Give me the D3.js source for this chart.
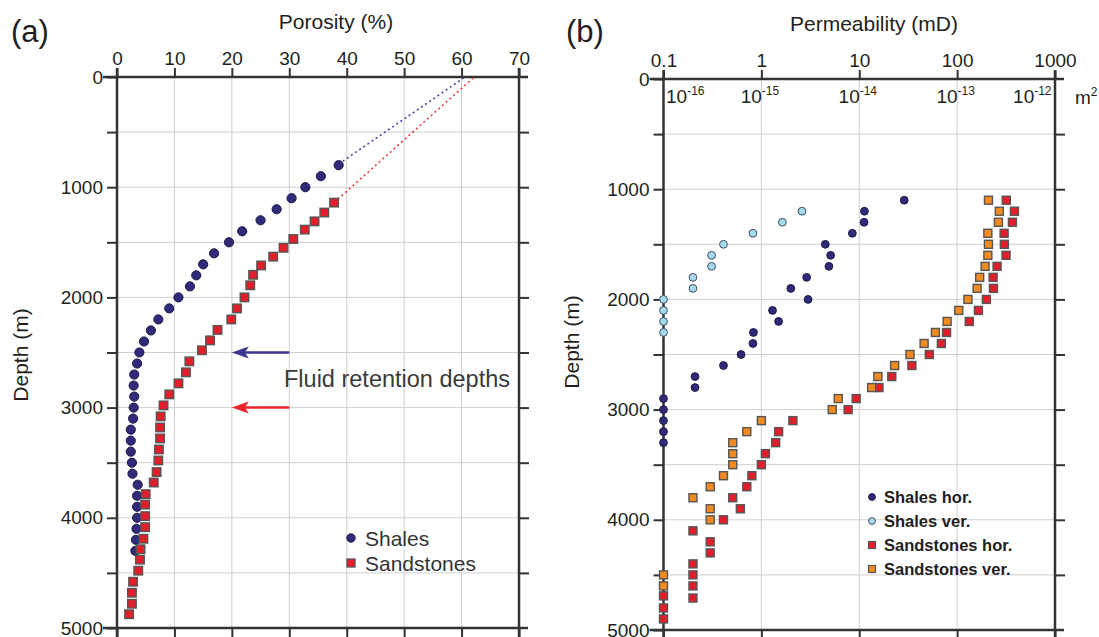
<!DOCTYPE html>
<html>
<head>
<meta charset="utf-8">
<script src="https://cdn.jsdelivr.net/npm/d3@7"></script>
<style>
body { margin: 0; background: #fff; }
svg text { font-family: "Liberation Sans", Arial, sans-serif; fill: #231f20; }
</style>
</head>
<body>
<svg id="chart" width="1099" height="637"></svg>
<script>
// ---- DATA: panel (a) porosity vs depth ----
var shaleDepthA = [800, 900, 1000, 1100, 1200, 1300, 1400, 1500, 1600, 1700, 1800, 1900,
  2000, 2100, 2200, 2300, 2400, 2500, 2600, 2700, 2800, 2900, 3000, 3100, 3200, 3300,
  3400, 3500, 3600, 3700, 3800, 3900, 4000, 4100, 4200, 4300];
var shalePorosity = [38.6, 35.5, 32.8, 30.4, 27.8, 25.0, 21.8, 19.5, 16.9, 15.0, 13.8, 12.7,
  10.7, 9.1, 7.2, 5.9, 4.7, 3.9, 3.5, 3.0, 2.9, 3.0, 2.9, 2.8, 2.4, 2.4,
  2.4, 2.6, 2.7, 3.6, 3.5, 3.5, 3.5, 3.4, 3.3, 3.2];

var sandDepthA = [1140, 1230, 1310, 1385, 1470, 1550, 1630, 1710, 1795, 1890, 2000, 2100,
  2200, 2295, 2390, 2480, 2580, 2680, 2780, 2880, 2980, 3080, 3180, 3280, 3380, 3480,
  3585, 3680, 3785, 3880, 3985, 4085, 4190, 4285, 4380, 4480, 4580, 4680, 4780, 4875];
var sandPorosity = [37.8, 36.1, 34.4, 32.7, 30.7, 29.0, 27.2, 25.1, 23.7, 23.2, 22.2, 20.9,
  19.9, 17.5, 16.2, 14.8, 12.6, 12.0, 10.7, 9.1, 8.1, 7.6, 7.5, 7.5, 7.3, 7.2,
  6.9, 6.4, 5.0, 4.9, 4.9, 4.9, 4.6, 4.1, 4.0, 3.7, 2.8, 2.6, 2.6, 2.1];

// extrapolated surface porosity (dotted lines)
var shaleTrendPorosity = [38.6, 60.6], shaleTrendDepth = [790, 0];
var sandTrendPorosity = [37.8, 62.2], sandTrendDepth = [1140, 0];

// fluid retention depth arrows
var retentionDepths = [2500, 3000];
var arrowFrom = 30, arrowTo = 20;

var porosityTicks = [0, 10, 20, 30, 40, 50, 60, 70];
var depthTicks = [0, 500, 1000, 1500, 2000, 2500, 3000, 3500, 4000, 4500, 5000];
var legendA = ["Shales", "Sandstones"];

// ---- DATA: panel (b) permeability vs depth ----
var shaleHorDepth = [1100, 1200, 1300, 1400, 1500, 1600, 1700, 1800, 1900, 2000, 2100, 2200,
  2300, 2400, 2500, 2600, 2700, 2800, 2900, 3000, 3100, 3200, 3300];
var shaleHorPerm = [28.8, 11.3, 11.2, 8.5, 4.5, 5.1, 4.9, 2.9, 2.0, 3.0, 1.3, 1.5,
  0.83, 0.82, 0.62, 0.41, 0.21, 0.21, 0.1, 0.1, 0.1, 0.1, 0.1];

var shaleVerDepth = [1200, 1300, 1400, 1500, 1600, 1700, 1800, 1900, 2000, 2100, 2200, 2300];
var shaleVerPerm = [2.6, 1.64, 0.82, 0.41, 0.31, 0.31, 0.20, 0.20, 0.1, 0.1, 0.1, 0.1];

var sandHorDepth = [1100, 1200, 1300, 1400, 1500, 1600, 1700, 1800, 1900, 2000, 2100, 2200,
  2300, 2400, 2500, 2600, 2700, 2800, 2900, 3000, 3100, 3200, 3300, 3400, 3500, 3600,
  3700, 3800, 3900, 4000, 4100, 4200, 4300, 4400, 4500, 4600, 4710, 4690, 4800, 4900];
var sandHorPerm = [318, 385, 367, 302, 304, 316, 256, 233, 235, 199, 165, 133,
  78, 69, 52, 34.5, 21.5, 15.9, 9.3, 7.7, 2.1, 1.5, 1.4, 1.1, 1.0, 0.80,
  0.71, 0.51, 0.61, 0.41, 0.20, 0.30, 0.30, 0.20, 0.20, 0.20, 0.20, 0.1, 0.1, 0.1];

var sandVerDepth = [1100, 1200, 1300, 1400, 1500, 1600, 1700, 1800, 1900, 2000, 2100, 2200,
  2300, 2400, 2500, 2600, 2700, 2800, 2900, 3000, 3100, 3200, 3300, 3400, 3500, 3600,
  3700, 3800, 3900, 4000, 4500, 4600];
var sandVerPerm = [209, 270, 264, 206, 209, 206, 193, 170, 160, 129, 104, 79,
  60, 46, 33, 23, 15.5, 13.4, 6.1, 5.3, 1.0, 0.71, 0.51, 0.51, 0.51, 0.41,
  0.30, 0.2, 0.30, 0.30, 0.1, 0.1];

var permTicks = [0.1, 1, 10, 100, 1000];
var permTickLabels = ["0.1", "1", "10", "100", "1000"];
var m2Exponents = [-16, -15, -14, -13, -12];
var legendB = ["Shales hor.", "Shales ver.", "Sandstones hor.", "Sandstones ver."];

// ---- STYLE ----
var colShale = "#2f2a7a", colShaleVer = "#a6d8f0", colSand = "#e31e2a", colSandVer = "#f18a1f";
var axisCol = "#333";

var svg = d3.select('#chart');

function zip(a, b) { return a.map(function(v, i) { return [v, b[i]]; }); }

// generic frame: grid, 4 axes, labels
function drawFrame(x, y, xTicks, xLabels, x0, x1, y0, y1) {
  var g = svg.append('g');
  // grid
  g.selectAll('.vgrid').data(xTicks.slice(1, -1)).enter().append('line')
    .attr('x1', x).attr('x2', x).attr('y1', y0).attr('y2', y1)
    .attr('stroke', '#cfcfcf').attr('stroke-width', 1);
  g.selectAll('.hgrid').data(depthTicks.slice(1, -1)).enter().append('line')
    .attr('x1', x0).attr('x2', x1).attr('y1', y).attr('y2', y)
    .attr('stroke', '#cfcfcf').attr('stroke-width', 1);

  var top = g.append('g').attr('transform', 'translate(0,' + y0 + ')')
    .call(d3.axisTop(x).tickValues(xTicks).tickSize(9).tickSizeOuter(0).tickPadding(3)
      .tickFormat(function(d, i) { return xLabels[i]; }));
  var bottom = g.append('g').attr('transform', 'translate(0,' + y1 + ')')
    .call(d3.axisBottom(x).tickValues(xTicks).tickSize(9).tickSizeOuter(0).tickFormat(''));
  var left = g.append('g').attr('transform', 'translate(' + x0 + ',0)')
    .call(d3.axisLeft(y).tickValues(depthTicks).tickSize(10).tickSizeOuter(0).tickPadding(4)
      .tickFormat(function(d) { return d % 1000 === 0 ? d : ''; }));
  var right = g.append('g').attr('transform', 'translate(' + x1 + ',0)')
    .call(d3.axisRight(y).tickValues(depthTicks.slice(1, -1)).tickSize(10).tickSizeOuter(0).tickFormat(''));

  [top, bottom, left, right].forEach(function(a) {
    a.select('.domain').remove();
    a.selectAll('.tick line').attr('stroke', axisCol).attr('stroke-width', 2);
    a.selectAll('.tick text').style('font-size', '19px').attr('fill', '#231f20');
  });

  // axis lines, extending a little past the corners
  g.append('line').attr('x1', x0 - 14).attr('x2', x1 + 9).attr('y1', y0).attr('y2', y0)
    .attr('stroke', axisCol).attr('stroke-width', 2.5);
  g.append('line').attr('x1', x0 - 14).attr('x2', x1 + 9).attr('y1', y1).attr('y2', y1)
    .attr('stroke', axisCol).attr('stroke-width', 2.5);
  g.append('line').attr('x1', x0).attr('x2', x0).attr('y1', y0 - 9).attr('y2', 640)
    .attr('stroke', axisCol).attr('stroke-width', 2.5);
  g.append('line').attr('x1', x1).attr('x2', x1).attr('y1', y0 - 9).attr('y2', 640)
    .attr('stroke', axisCol).attr('stroke-width', 2.5);
  return g;
}

function circles(g, pts, x, y, r, fill, stroke) {
  g.selectAll(null).data(pts).enter().append('circle')
    .attr('cx', function(d) { return x(d[0]); })
    .attr('cy', function(d) { return y(d[1]); })
    .attr('r', r).attr('fill', fill).attr('stroke', stroke).attr('stroke-width', 1);
}
function squares(g, pts, x, y, s, fill, stroke) {
  g.selectAll(null).data(pts).enter().append('rect')
    .attr('x', function(d) { return x(d[0]) - s / 2; })
    .attr('y', function(d) { return y(d[1]) - s / 2; })
    .attr('width', s).attr('height', s)
    .attr('fill', fill).attr('stroke', stroke).attr('stroke-width', 1.4);
}

// ================= PANEL (a) =================
var xA = d3.scaleLinear().domain([0, 70]).range([117, 519]);
var yA = d3.scaleLinear().domain([0, 5000]).range([77, 628]);

var gA = drawFrame(xA, yA, porosityTicks, porosityTicks.map(String), xA(0), xA(70), yA(0), yA(5000));

svg.append('text').attr('x', 11).attr('y', 42).style('font-size', '31px').text('(a)');
svg.append('text').attr('x', 336).attr('y', 29).attr('text-anchor', 'middle')
  .style('font-size', '21px').text('Porosity (%)');
svg.append('text').attr('transform', 'translate(28,355) rotate(-90)').attr('text-anchor', 'middle')
  .style('font-size', '21px').text('Depth (m)');

// dotted extrapolations
var lineA = d3.line().x(function(d) { return xA(d[0]); }).y(function(d) { return yA(d[1]); });
svg.append('path').datum(zip(shaleTrendPorosity, shaleTrendDepth)).attr('d', lineA)
  .attr('fill', 'none').attr('stroke', '#4a44a0').attr('stroke-width', 1.6).attr('stroke-dasharray', '2,3');
svg.append('path').datum(zip(sandTrendPorosity, sandTrendDepth)).attr('d', lineA)
  .attr('fill', 'none').attr('stroke', '#ee3a40').attr('stroke-width', 1.6).attr('stroke-dasharray', '2,3');

// arrows
var arrowCols = ["#3b3591", "#e8232b"];
retentionDepths.forEach(function(dep, i) {
  var yy = yA(dep), xt = xA(arrowTo), xs = xA(arrowFrom);
  svg.append('line').attr('x1', xs).attr('x2', xt + 12).attr('y1', yy).attr('y2', yy)
    .attr('stroke', arrowCols[i]).attr('stroke-width', 2.5);
  svg.append('path').attr('d', 'M' + xt + ',' + yy + 'L' + (xt + 17) + ',' + (yy - 6) +
      'L' + (xt + 13) + ',' + yy + 'L' + (xt + 17) + ',' + (yy + 6) + 'Z')
    .attr('fill', arrowCols[i]);
});
svg.append('text').attr('x', 284).attr('y', 387).style('font-size', '23.5px')
  .style('fill', '#3a3a3a').text('Fluid retention depths');

var markA = svg.append('g');
circles(markA, zip(shalePorosity, shaleDepthA), xA, yA, 4.6, colShale, '#1e1b44');
squares(markA, zip(sandPorosity, sandDepthA), xA, yA, 8.5, colSand, '#555');

// legend (a)
svg.append('circle').attr('cx', 351).attr('cy', 538).attr('r', 4.2).attr('fill', colShale).attr('stroke', '#1e1b44');
svg.append('rect').attr('x', 347).attr('y', 559).attr('width', 8).attr('height', 8)
  .attr('fill', colSand).attr('stroke', '#555').attr('stroke-width', 1.3);
svg.selectAll('.legA').data(legendA).enter().append('text')
  .attr('x', 365).attr('y', function(d, i) { return 545.5 + i * 25; })
  .style('font-size', '21px').style('fill', '#333').text(function(d) { return d; });

// ================= PANEL (b) =================
var xB = d3.scaleLog().domain([0.1, 1000]).range([663.5, 1055]);
var yB = d3.scaleLinear().domain([0, 5000]).range([79, 630]);

var gB = drawFrame(xB, yB, permTicks, permTickLabels, xB(0.1), xB(1000), yB(0), yB(5000));

svg.append('text').attr('x', 566).attr('y', 42).style('font-size', '31px').text('(b)');
svg.append('text').attr('x', 874).attr('y', 31).attr('text-anchor', 'middle')
  .style('font-size', '21px').text('Permeability (mD)');
svg.append('text').attr('transform', 'translate(579,342) rotate(-90)').attr('text-anchor', 'middle')
  .style('font-size', '21px').text('Depth (m)');

// m^2 secondary labels (1 mD = 9.869e-16 m^2)
m2Exponents.forEach(function(e, i) {
  var px = xB(Math.pow(10, e) / 9.869e-16);
  var last = i === m2Exponents.length - 1;
  var anchor = i === 0 ? 'start' : (last ? 'end' : 'middle');
  var t = svg.append('text').attr('x', px + (i === 0 ? 2 : (last ? -4 : -2)))
    .attr('y', 103).attr('text-anchor', anchor).style('font-size', '19px');
  t.append('tspan').text('10');
  t.append('tspan').attr('dy', -8).style('font-size', '12px').text(String(e));
});
var m2 = svg.append('text').attr('x', 1075).attr('y', 104).style('font-size', '19px');
m2.append('tspan').text('m');
m2.append('tspan').attr('dy', -8).style('font-size', '12px').text('2');

var markB = svg.append('g');
circles(markB, zip(shaleHorPerm, shaleHorDepth), xB, yB, 3.9, colShale, '#1e1b44');
circles(markB, zip(shaleVerPerm, shaleVerDepth), xB, yB, 3.9, colShaleVer, '#3c5060');
squares(markB, zip(sandHorPerm, sandHorDepth), xB, yB, 8, colSand, '#555');
squares(markB, zip(sandVerPerm, sandVerDepth), xB, yB, 8, colSandVer, '#555');

// legend (b)
var legCols = [colShale, colShaleVer, colSand, colSandVer];
legendB.forEach(function(name, i) {
  var cy = 497 + i * 24;
  if (i < 2) {
    svg.append('circle').attr('cx', 872).attr('cy', cy).attr('r', 3.4)
      .attr('fill', legCols[i]).attr('stroke', i === 0 ? '#1e1b44' : '#3c5060');
  } else {
    svg.append('rect').attr('x', 868.5).attr('y', cy - 3.5).attr('width', 7).attr('height', 7)
      .attr('fill', legCols[i]).attr('stroke', '#555').attr('stroke-width', 1.2);
  }
  svg.append('text').attr('x', 884).attr('y', cy + 5.5).style('font-size', '16.5px')
    .style('font-weight', 'bold').text(name);
});
</script>
</body>
</html>
